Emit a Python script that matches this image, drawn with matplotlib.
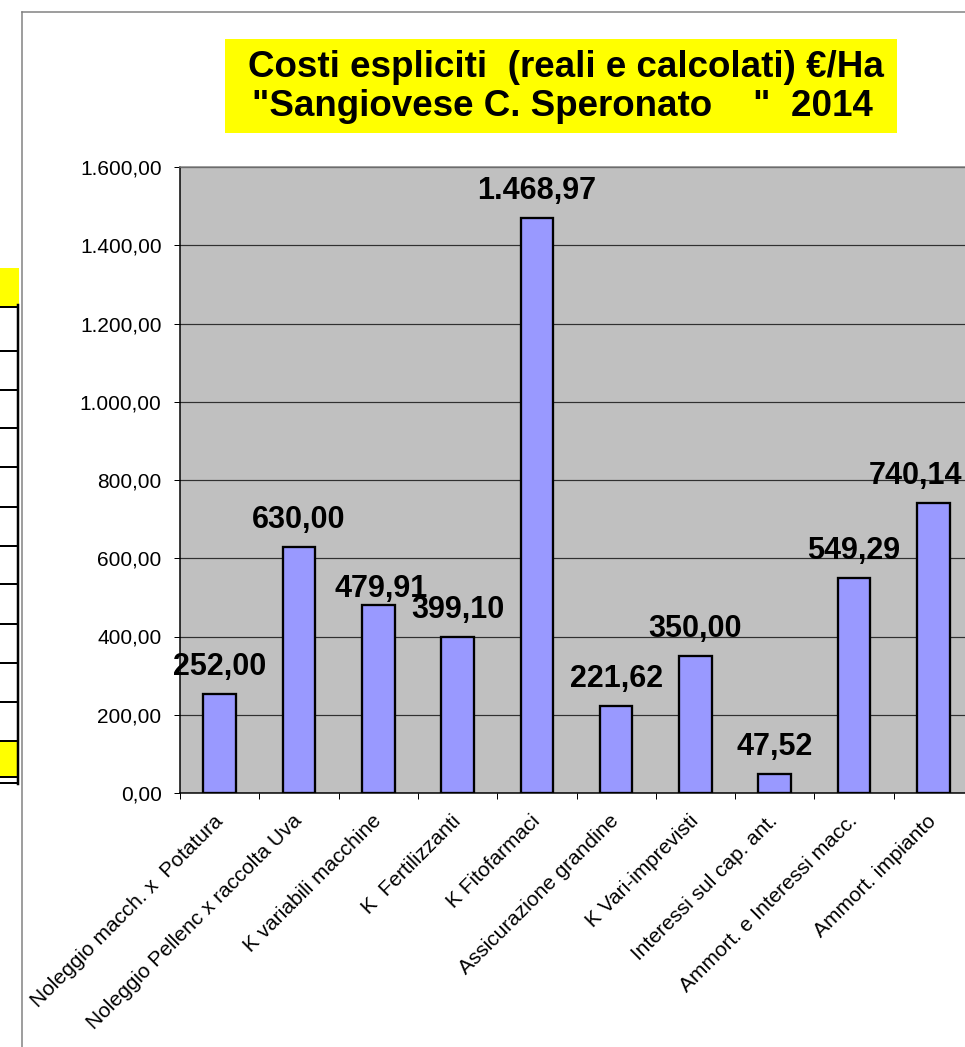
import matplotlib
matplotlib.use("Agg")
import matplotlib.pyplot as plt
from matplotlib.patches import Rectangle
from matplotlib.lines import Line2D
from matplotlib.ticker import FuncFormatter, MultipleLocator

plt.rcParams['font.family'] = ['Liberation Sans', 'DejaVu Sans']

categories = [
    "Noleggio macch. x  Potatura",
    "Noleggio Pellenc x raccolta Uva",
    "K variabili macchine",
    "K  Fertilizzanti",
    "K Fitofarmaci",
    "Assicurazione grandine",
    "K Vari-imprevisti",
    "Interessi sul cap. ant.",
    "Ammort. e Interessi macc.",
    "Ammort. impianto",
]
values = [252.00, 630.00, 479.91, 399.10, 1468.97, 221.62, 350.00, 47.52, 549.29, 740.14]
title_lines = ["Costi espliciti  (reali e calcolati) €/Ha",
               "\"Sangiovese C. Speronato    \"  2014"]

W, H = 965, 1047
fig = plt.figure(figsize=(W / 100, H / 100), dpi=100)
PX = 0.72  # points per pixel


def fx(x):
    return x / W


def fy(y):
    return 1 - y / H


# outer frame lines
fig.add_artist(Line2D([fx(22), fx(22)], [fy(12), fy(H)], color='#808080', lw=1.5 * PX))
fig.add_artist(Line2D([fx(22), fx(W)], [fy(12), fy(12)], color='#808080', lw=1.5 * PX))

# partial spreadsheet table at the left edge
fig.add_artist(Rectangle((fx(0), fy(306)), fx(19), fy(268) - fy(306), color='#FFFF00', lw=0))
fig.add_artist(Rectangle((fx(0), fy(777)), fx(17), fy(741) - fy(777), color='#FFFF00', lw=0))
for yy in [307, 351, 390, 428, 467, 507, 546, 584, 624, 663, 702, 741, 777, 783]:
    fig.add_artist(Line2D([0, fx(18)], [fy(yy), fy(yy)], color='black', lw=2 * PX))
fig.add_artist(Line2D([fx(17.5), fx(17.5)], [fy(305), fy(784)], color='black', lw=2.5 * PX))

# title box
fig.add_artist(Rectangle((fx(225), fy(133)), fx(897) - fx(225), fy(39) - fy(133),
                         color='#FFFF00', lw=0))
fig.text(fx(566), fy(68), title_lines[0], ha='center', va='center',
         fontsize=26.5, fontweight='bold')
fig.text(fx(562), fy(106), title_lines[1], ha='center', va='center',
         fontsize=26.5, fontweight='bold')

# axes
left, right, top, bottom = 180, 973, 167, 793
ax = fig.add_axes([fx(left), fy(bottom), fx(right) - fx(left), fy(top) - fy(bottom)])
ax.set_facecolor('#C0C0C0')
n = len(categories)
xs = list(range(n))
ax.bar(xs, values, width=0.41, color='#9999FF', edgecolor='black', linewidth=2.3 * PX, zorder=3)
ax.set_xlim(-0.5, n - 0.5)
ax.set_ylim(0, 1600)
ax.yaxis.set_major_locator(MultipleLocator(200))


def itfmt(v, pos=None):
    s = f"{v:,.2f}"
    return s.replace(',', 'X').replace('.', ',').replace('X', '.')


ax.yaxis.set_major_formatter(FuncFormatter(itfmt))
ax.grid(axis='y', color='#303030', lw=1.2 * PX, zorder=1)
ax.set_axisbelow(True)
ax.tick_params(axis='y', direction='out', length=6 * PX, width=1 * PX, pad=9,
               labelsize=15, colors='black')

ax.set_xticks(xs)
ax.set_xticklabels(categories, rotation=45, ha='right', va='center',
                   rotation_mode='anchor', fontsize=15)
ax.tick_params(axis='x', length=0, pad=18)
ax.set_xticks([i - 0.5 for i in range(n + 1)], minor=True)
ax.tick_params(axis='x', which='minor', direction='out', length=6 * PX, width=1 * PX)

ax.spines['right'].set_visible(False)
ax.spines['top'].set_color('#808080')
ax.spines['top'].set_linewidth(1.5 * PX)
ax.spines['left'].set_color('black')
ax.spines['left'].set_linewidth(1.5 * PX)
ax.spines['bottom'].set_color('black')
ax.spines['bottom'].set_linewidth(1.5 * PX)

# label offsets (pixels) relative to default placement above each bar
label_shift = {2: (3, -11)}

texts = []
for i, (x, v) in enumerate(zip(xs, values)):
    dx, dy = label_shift.get(i, (0, 0))
    t = ax.annotate(itfmt(v), xy=(x, v), xytext=(dx * PX, (27 + dy) * PX),
                    textcoords='offset points',
                    ha='center', va='center', fontsize=22, fontweight='bold', zorder=4,
                    annotation_clip=False)
    texts.append(t)

# keep data labels inside the visible chart width
fig.canvas.draw()
r = fig.canvas.get_renderer()
for t in texts:
    bb = t.get_window_extent(r)
    if bb.x1 > W - 3:
        shift = (bb.x1 - (W - 3)) * PX
        t.xyann = (t.xyann[0] - shift, t.xyann[1])

fig.savefig("out.png", dpi=100)
